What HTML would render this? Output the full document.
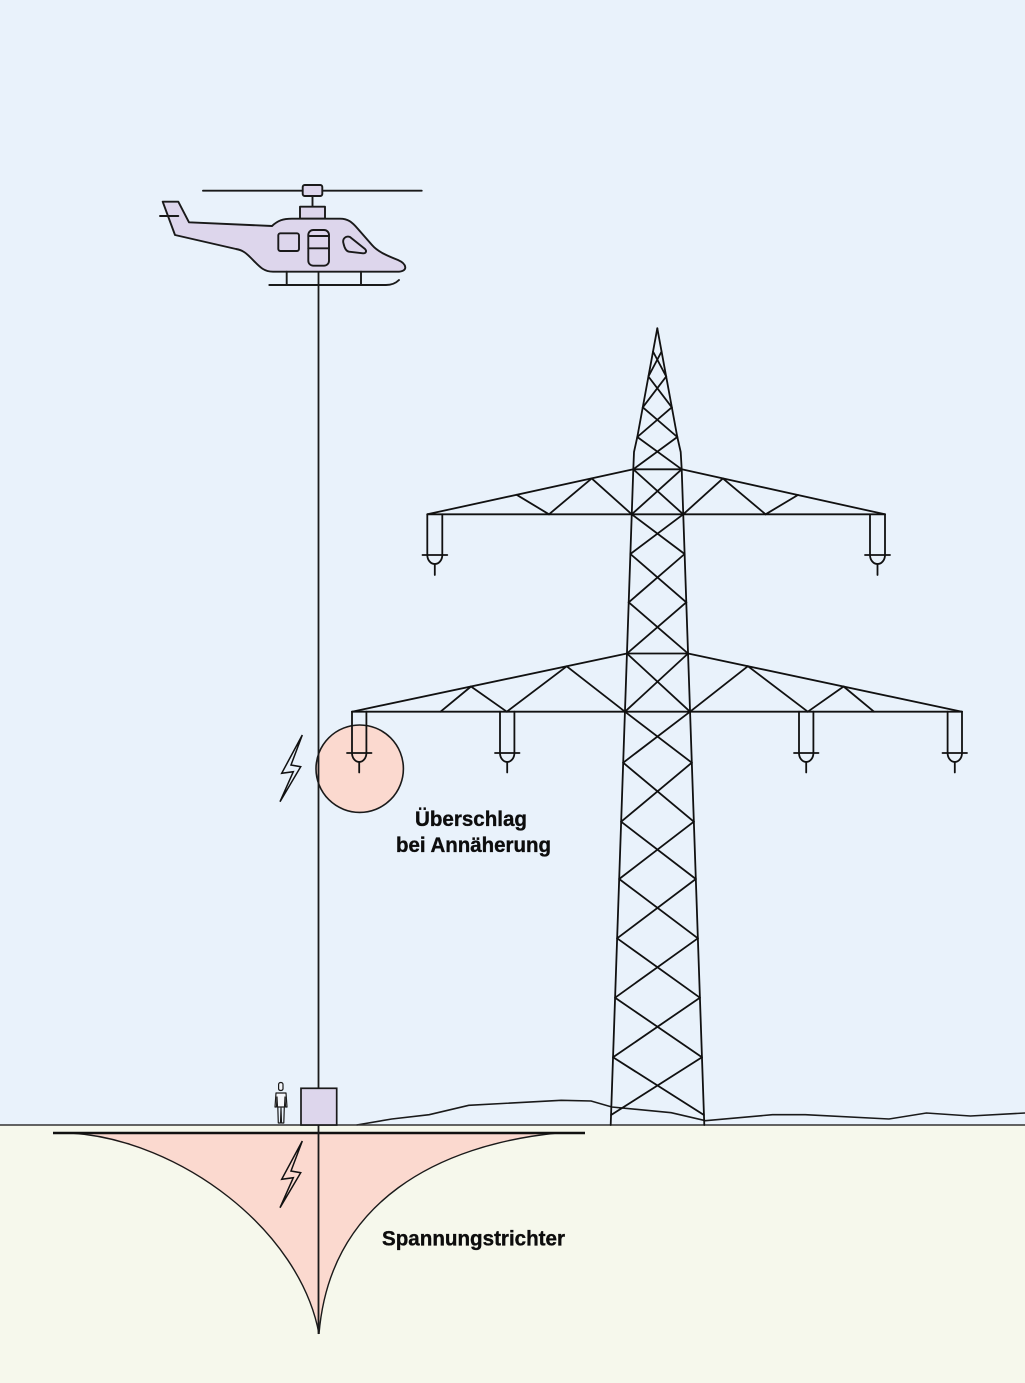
<!DOCTYPE html>
<html>
<head>
<meta charset="utf-8">
<style>
html,body{margin:0;padding:0;background:#e9f2fb;}
svg{display:block;}
</style>
</head>
<body>
<svg width="1025" height="1383" viewBox="0 0 1025 1383" xmlns="http://www.w3.org/2000/svg">
  <!-- background -->
  <rect x="0" y="0" width="1025" height="1125" fill="#e9f2fb"/>
  <rect x="0" y="1125" width="1025" height="258" fill="#f6f8ec"/>

  <!-- funnel -->
  <path d="M65,1133 L560,1133 C440,1145 330,1200 319,1334 C300,1230 180,1140 65,1133 Z" fill="#fbd9cf" stroke="none"/>
  <path d="M557,1133 C440,1145 330,1200 319,1334" fill="none" stroke="#1a1a1a" stroke-width="1.4"/>
  <path d="M71,1133 C180,1140 300,1230 319,1334" fill="none" stroke="#1a1a1a" stroke-width="1.4"/>
  <line x1="53" y1="1133" x2="585" y2="1133" stroke="#111" stroke-width="2.6"/>

  <!-- terrain -->
  <polyline points="356.6,1125 391.8,1119 429.2,1114.7 468.8,1105.3 561.2,1100.3 591.1,1101 611.8,1107 671.2,1112.7 705.5,1120.7 772.4,1114.7 805.4,1114.7 889,1119 926.4,1113 970.4,1116 1025,1113" fill="none" stroke="#1a1a1a" stroke-width="1.6"/>

  <!-- ground line -->
  <line x1="0" y1="1125" x2="1025" y2="1125" stroke="#333" stroke-width="1.6"/>

  <!-- circle -->
  <circle cx="359.7" cy="768.7" r="43.7" fill="#fbd9cf" stroke="#1a1a1a" stroke-width="1.6"/>

  <!-- tower -->
  <g fill="none" stroke="#111" stroke-width="1.8" stroke-linejoin="round" stroke-linecap="round">
    <polyline points="657.3,328.3 637.3,437 634,452 633.3,469.3 610.7,1125"/>
    <polyline points="657.3,328.3 677.3,437 680.7,452 681.7,469.3 704.3,1125"/>
    <line x1="633.3" y1="469.3" x2="681.7" y2="469.3"/>
    <line x1="626.95" y1="653.5" x2="688.05" y2="653.5"/>
    <line x1="653.0" y1="351.5" x2="666.2" y2="376.5"/><line x1="661.6" y1="351.5" x2="648.4" y2="376.5"/>
    <line x1="648.4" y1="376.5" x2="671.8" y2="407.3"/><line x1="666.2" y1="376.5" x2="642.8" y2="407.3"/>
    <line x1="642.8" y1="407.3" x2="677.3" y2="437"/><line x1="671.8" y1="407.3" x2="637.3" y2="437"/>
    <line x1="637.3" y1="437" x2="681.7" y2="469.3"/><line x1="677.3" y1="437" x2="633.3" y2="469.3"/>
    <line x1="633.3" y1="469.3" x2="683.25" y2="514.3"/><line x1="681.7" y1="469.3" x2="631.75" y2="514.3"/>
    <line x1="631.75" y1="514.3" x2="684.62" y2="554"/><line x1="683.25" y1="514.3" x2="630.38" y2="554"/>
    <line x1="630.38" y1="554" x2="686.28" y2="602.3"/><line x1="684.62" y1="554" x2="628.72" y2="602.3"/>
    <line x1="628.72" y1="602.3" x2="688.05" y2="653.5"/><line x1="686.28" y1="602.3" x2="626.95" y2="653.5"/>
    <line x1="626.95" y1="653.5" x2="690.05" y2="711.7"/><line x1="688.05" y1="653.5" x2="624.95" y2="711.7"/>
    <line x1="624.95" y1="711.7" x2="691.81" y2="762.7"/><line x1="690.05" y1="711.7" x2="623.19" y2="762.7"/>
    <line x1="623.19" y1="762.7" x2="693.84" y2="821.7"/><line x1="691.81" y1="762.7" x2="621.16" y2="821.7"/>
    <line x1="621.16" y1="821.7" x2="695.81" y2="879"/><line x1="693.84" y1="821.7" x2="619.19" y2="879"/>
    <line x1="619.19" y1="879" x2="697.86" y2="938.3"/><line x1="695.81" y1="879" x2="617.14" y2="938.3"/>
    <line x1="617.14" y1="938.3" x2="699.90" y2="997.7"/><line x1="697.86" y1="938.3" x2="615.10" y2="997.7"/>
    <line x1="615.10" y1="997.7" x2="701.96" y2="1057.3"/><line x1="699.90" y1="997.7" x2="613.04" y2="1057.3"/>
    <line x1="613.04" y1="1057.3" x2="703.94" y2="1115"/><line x1="701.96" y1="1057.3" x2="611.06" y2="1115"/>

    <line x1="427.3" y1="514.3" x2="885" y2="514.3"/>
    <line x1="633.3" y1="469.3" x2="427.3" y2="514.3"/>
    <line x1="681.7" y1="469.3" x2="885" y2="514.3"/>
    <line x1="591.7" y1="478.4" x2="631.75" y2="514.3"/>
    <line x1="591.7" y1="478.4" x2="549" y2="514.3"/>
    <line x1="516.7" y1="494.8" x2="549" y2="514.3"/>
    <line x1="722.9" y1="478.4" x2="683.25" y2="514.3"/>
    <line x1="722.9" y1="478.4" x2="765.6" y2="514.3"/>
    <line x1="797.9" y1="495" x2="765.6" y2="514.3"/>

    <line x1="352" y1="711.7" x2="962" y2="711.7"/>
    <line x1="626.95" y1="653.5" x2="352" y2="711.7"/>
    <line x1="688.05" y1="653.5" x2="962" y2="711.7"/>
    <line x1="471" y1="686.5" x2="440.5" y2="711.7"/>
    <line x1="471" y1="686.5" x2="506.8" y2="711.7"/>
    <line x1="566.7" y1="666.3" x2="506.8" y2="711.7"/>
    <line x1="566.7" y1="666.3" x2="624.95" y2="711.7"/>
    <line x1="747.9" y1="666.2" x2="690.05" y2="711.7"/>
    <line x1="747.9" y1="666.2" x2="807.8" y2="711.7"/>
    <line x1="843.6" y1="686.5" x2="807.8" y2="711.7"/>
    <line x1="843.6" y1="686.5" x2="874" y2="711.7"/>

    <path d="M427.3,514.3 V555 A7.5,9 0 0 0 442.3,555 V514.3"/>
    <line x1="422.5" y1="555" x2="447.3" y2="555"/>
    <line x1="434.8" y1="564" x2="434.8" y2="575"/>
    <path d="M870,514.3 V555 A7.5,9 0 0 0 885,555 V514.3"/>
    <line x1="865" y1="555" x2="890" y2="555"/>
    <line x1="877.5" y1="564" x2="877.5" y2="575"/>

    <path d="M352,711.7 V753 A7.2,9 0 0 0 366.4,753 V711.7"/>
    <line x1="347" y1="753" x2="371.5" y2="753"/>
    <line x1="359.2" y1="762" x2="359.2" y2="772.5"/>
    <path d="M500,711.7 V753 A7.2,9 0 0 0 514.4,753 V711.7"/>
    <line x1="495" y1="753" x2="519.5" y2="753"/>
    <line x1="507.2" y1="762" x2="507.2" y2="772.5"/>
    <path d="M799,711.7 V753 A7.2,9 0 0 0 813.4,753 V711.7"/>
    <line x1="794" y1="753" x2="818.5" y2="753"/>
    <line x1="806.2" y1="762" x2="806.2" y2="772.5"/>
    <path d="M947.6,711.7 V753 A7.2,9 0 0 0 962,753 V711.7"/>
    <line x1="942.5" y1="753" x2="967" y2="753"/>
    <line x1="954.8" y1="762" x2="954.8" y2="772.5"/>
  </g>

  <!-- cable -->
  <line x1="318.5" y1="271.7" x2="318.5" y2="1334" stroke="#1a1a1a" stroke-width="1.8"/>

  <!-- box -->
  <rect x="301" y="1088.3" width="35.7" height="36.7" fill="#ddd6ec" stroke="#1a1a1a" stroke-width="1.7"/>

  <!-- person -->
  <g stroke="#1a1a1a" stroke-width="1.2" fill="#f4f6fa" stroke-linejoin="round">
    <path d="M278.6,1084.5 C278.6,1081.8 283,1081.8 283,1084.5 L283,1089 C282.5,1091 279,1091 278.6,1089 Z"/>
    <path d="M276,1093 L286,1093 L287,1107 L285.5,1107 L285,1097 L284.5,1107 L277.5,1107 L277,1097 L276.5,1107 L275,1107 Z"/>
    <path d="M277.8,1107 L278.3,1123 L280.5,1123 L281,1108 L281.5,1123 L283.8,1123 L284.3,1107" fill="none"/>
  </g>

  <!-- lightning bolts -->
  <polygon points="302.3,735 281.7,773.3 293.3,771.7 280,801.7 300.7,766.7 291,765" fill="none" stroke="#111" stroke-width="1.5" stroke-linejoin="miter"/>
  <polygon points="302.3,1141 281.7,1179.3 293.3,1177.7 280,1207.7 300.7,1172.7 291,1171" fill="none" stroke="#111" stroke-width="1.5" stroke-linejoin="miter"/>

  <!-- helicopter -->
  <g stroke="#1a1a1a" stroke-width="1.9" stroke-linejoin="round" stroke-linecap="round">
    <line x1="203" y1="190.7" x2="421.7" y2="190.7" fill="none"/>
    <line x1="312.5" y1="196" x2="312.5" y2="207" fill="none"/>
    <rect x="302.7" y="185" width="19.6" height="11" rx="2" fill="#ddd6ec"/>
    <rect x="300" y="206.7" width="25" height="12" fill="#ddd6ec"/>
    <path d="M162.7,201.7 L178.3,201.7 L189,222.3 L272,226 C278,220.5 283,218.7 292,218.7 L340,218.7 C348,218.7 352,222 358,229 L372,245 C378,252 388,256 398,260 C407,264 408,271 399,271.7 L273,271.7 C263,271.7 259,266 251,258 C247,254 243,250 236,249 L175,235 Z" fill="#ddd6ec"/>
    <line x1="160" y1="216" x2="178.3" y2="216" fill="none"/>
    <rect x="278.3" y="233.3" width="20.7" height="17.7" rx="2" fill="none"/>
    <rect x="308.3" y="230" width="20.7" height="35.7" rx="5" fill="none"/>
    <line x1="308.3" y1="236" x2="329" y2="236"/>
    <line x1="308.3" y1="248.3" x2="329" y2="248.3"/>
    <path d="M343.5,243.5 C342,238.5 346,235.5 350,237 L365,249 C367,251 366,253.5 363,253.3 L349,251.7 C346,251.3 344.5,248 343.5,243.5 Z" fill="none"/>
    <line x1="286.7" y1="271.7" x2="286.7" y2="285" fill="none"/>
    <line x1="361" y1="271.7" x2="361" y2="285" fill="none"/>
    <path d="M269.3,285 L386,285 C392,285 396,283 399,280" fill="none"/>
  </g>

  <!-- labels -->
  <g font-family="'Liberation Sans', Arial, sans-serif" font-weight="bold" font-size="21" fill="#0d0d0d" stroke="#0d0d0d" stroke-width="0.35">
    <text x="415" y="826" textLength="112" lengthAdjust="spacingAndGlyphs">Überschlag</text>
    <text x="396" y="852" textLength="155" lengthAdjust="spacingAndGlyphs">bei Annäherung</text>
    <text x="382" y="1245.5" textLength="183" lengthAdjust="spacingAndGlyphs">Spannungstrichter</text>
  </g>
</svg>
</body>
</html>
